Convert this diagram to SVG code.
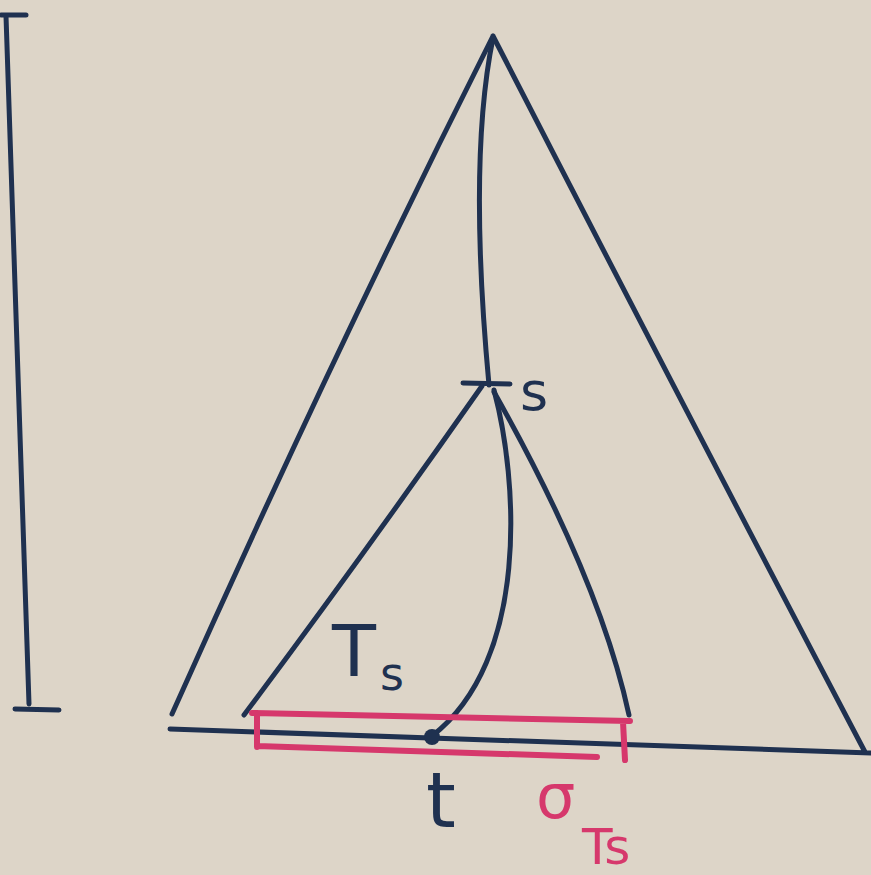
<svg xmlns="http://www.w3.org/2000/svg" width="871" height="875" viewBox="0 0 871 875">
<style>
.ink{fill:none;stroke:#1f3150;stroke-width:5;stroke-linecap:round;stroke-linejoin:round}
.pink{fill:none;stroke:#d6386c;stroke-width:6;stroke-linecap:round}
.lbl{font-family:"DejaVu Sans","Liberation Sans",sans-serif;fill:#1f3150}
.plbl{font-family:"DejaVu Sans","Liberation Sans",sans-serif;fill:#d6386c}
</style>
<rect width="871" height="875" fill="#ddd5c8"/>
<g id="scale-bar">
<path class="ink" d="M1,15 L26,15 M6,16 Q18,360 29,704 M15,709 L59,710"/>
</g>
<g id="big-triangle">
<path class="ink" d="M493,36 Q330,360 172,714 M493,36 Q680,400 865,752 M170,729 L871,753"/>
</g>
<g id="connectors">
<path class="ink" d="M493,38 Q468,160 489,385"/>
<path class="ink" d="M463,383 L510,384"/>
<path class="ink" d="M482,386 Q360,560 244,715"/>
<path class="ink" d="M494,392 Q600,580 629,715"/>
<path class="ink" d="M494,390 C518,480 530,660 432,736"/>
</g>
<g id="s">
<text class="lbl" x="520" y="410" font-size="54">s</text>
</g>
<g id="Ts">
<text class="lbl" x="332" y="676" font-size="72">T</text>
<text class="lbl" x="380" y="690" font-size="46">s</text>
</g>
<g id="sigma-Ts">
<path class="pink" d="M252,713 L630,721 M257,713 L257,747 M257,746 L597,757 M623,722 L625,760"/>
<circle cx="432" cy="737" r="8" fill="#1f3150"/>
<text class="plbl" x="536" y="818" font-size="62">σ</text>
<text class="plbl" x="582" y="864" font-size="50">Ts</text>
</g>
<g id="t">
<text class="lbl" x="426" y="827" font-size="76">t</text>
</g>
</svg>
